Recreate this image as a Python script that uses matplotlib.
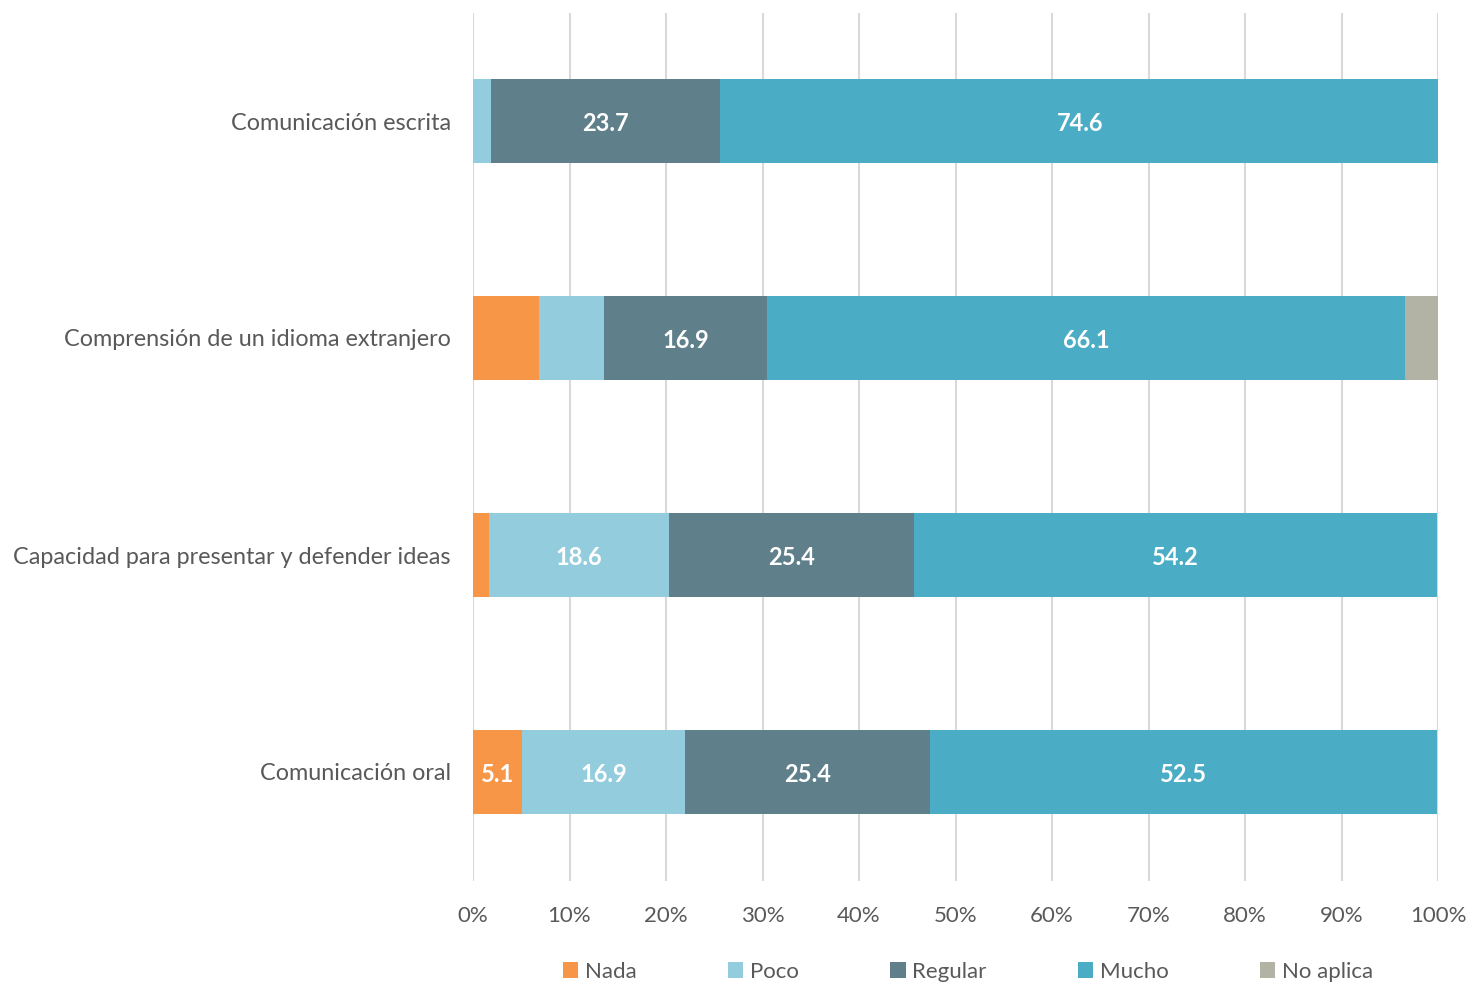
import matplotlib
matplotlib.use("Agg")
import matplotlib.pyplot as plt
import numpy as np

plt.rcParams['font.family'] = ['Lato', 'DejaVu Sans']

# data (percent), bottom row first
categories = ["Comunicación oral",
              "Capacidad para presentar y defender ideas",
              "Comprensión de un idioma extranjero",
              "Comunicación escrita"]
series = ["Nada", "Poco", "Regular", "Mucho", "No aplica"]
nada     = [5.1, 1.7, 6.8, 0.0]
poco     = [16.9, 18.6, 6.8, 1.9]
regular  = [25.4, 25.4, 16.9, 23.7]
mucho    = [52.5, 54.2, 66.1, 74.6]
no_aplica = [0.0, 0.0, 3.4, 0.0]
# which values carry a label in the original
shown = [[True, True, True, True, False],
         [False, True, True, True, False],
         [False, False, True, True, False],
         [False, False, True, True, False]]

colors = ["#F79646", "#93CDDD", "#5F7F8A", "#4BACC6", "#B3B3A5"]

fig = plt.figure(figsize=(14.7, 9.86), dpi=100)
ax = fig.add_axes([473/1470, 1-880.5/986, 965/1470, 868/986])

vals = np.array([nada, poco, regular, mucho, no_aplica])
y = np.arange(len(categories))
left = np.zeros(len(categories))
for k, name in enumerate(series):
    ax.barh(y, vals[k], left=left, height=0.39, color=colors[k], label=name, zorder=3)
    for i in range(len(categories)):
        if shown[i][k]:
            ax.text(left[i] + vals[k][i]/2, y[i] - 0.01, "%.1f" % vals[k][i], ha='center', va='center',
                    color='white', fontsize=17, fontweight='bold', zorder=4)
    left += vals[k]

ax.set_xlim(0, 100)
ax.set_ylim(-0.5, 3.5)
ax.set_xticks(np.arange(0, 101, 10))
ax.set_xticklabels(["%d%%" % v for v in range(0, 101, 10)])
ax.set_yticks(y)
ax.set_yticklabels(categories)
ax.grid(axis='x', color='#D9D9D9', linewidth=1.5, zorder=0)
for s in ax.spines.values():
    s.set_visible(False)
ax.tick_params(length=0, labelcolor='#595959')
ax.tick_params(axis='x', pad=18, labelsize=16)
ax.tick_params(axis='y', pad=16, labelsize=16.8)

leg = ax.legend(loc='center', bbox_to_anchor=(0.513, -0.105), ncol=5, frameon=False,
                fontsize=16, handlelength=0.7, handleheight=0.7, handletextpad=0.3,
                columnspacing=4.1)
for t in leg.get_texts():
    t.set_color('#595959')

fig.savefig("out.png", dpi=100)
